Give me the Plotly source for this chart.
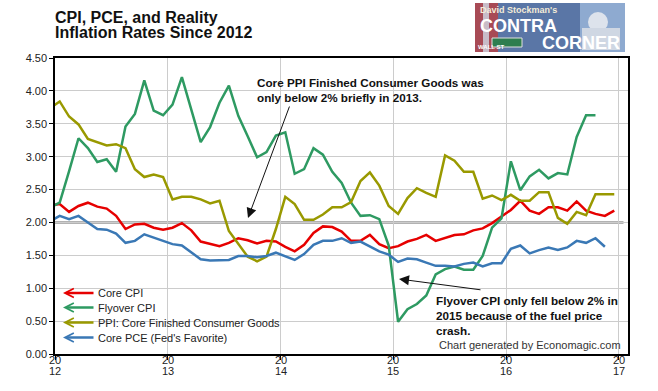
import plotly.graph_objects as go

# ---------------- data (monthly, first point = Dec 2011) ----------------
first_month = 2011 + 11.5 / 12  # mid-December 2011, in fractional years

core_cpi = [2.26, 2.28, 2.16, 2.25, 2.30, 2.24, 2.21, 2.10, 1.90, 1.97, 1.98, 1.92, 1.89,
            1.92, 1.99, 1.88, 1.71, 1.68, 1.64, 1.69, 1.76, 1.73, 1.68, 1.72, 1.71,
            1.63, 1.56, 1.66, 1.84, 1.94, 1.93, 1.86, 1.72, 1.72, 1.81, 1.67, 1.61,
            1.64, 1.71, 1.75, 1.81, 1.72, 1.76, 1.81, 1.82, 1.88, 1.91, 1.99, 2.09,
            2.19, 2.33, 2.18, 2.13, 2.23, 2.23, 2.18, 2.32, 2.18, 2.13, 2.10, 2.18]

flyover_cpi = [2.23, 2.30, 2.78, 3.28, 3.13, 2.92, 2.96, 2.77, 3.46, 3.65, 4.16, 3.70, 3.63,
               3.79, 4.21, 3.72, 3.22, 3.45, 3.82, 4.08, 3.62, 3.31, 2.99, 3.07, 3.32,
               3.37, 2.74, 2.81, 3.13, 3.03, 2.77, 2.60, 2.30, 2.10, 2.11, 2.05, 1.65,
               0.49, 0.68, 0.76, 0.89, 1.21, 1.29, 1.33, 1.28, 1.28, 1.49, 1.92, 2.06,
               2.93, 2.49, 2.70, 2.80, 2.67, 2.75, 2.73, 3.30, 3.63, 3.63]

ppi_core_goods = [3.74, 3.84, 3.61, 3.49, 3.27, 3.22, 3.17, 3.19, 3.13, 2.81, 2.69, 2.73, 2.69,
                  2.35, 2.39, 2.39, 2.35, 2.29, 2.33, 1.87, 1.67, 1.48, 1.41, 1.48, 1.90,
                  2.39, 2.28, 2.04, 2.04, 2.12, 2.23, 2.23, 2.31, 2.63, 2.76, 2.56, 2.25,
                  2.13, 2.37, 2.52, 2.45, 2.39, 3.02, 2.94, 2.77, 2.77, 2.36, 2.41, 2.34,
                  2.42, 2.33, 2.33, 2.46, 2.46, 2.07, 1.98, 2.16, 2.11, 2.43, 2.43, 2.43]

core_pce = [2.02, 2.10, 2.05, 2.10, 2.00, 1.90, 1.89, 1.83, 1.69, 1.72, 1.82, 1.77, 1.71,
            1.67, 1.65, 1.55, 1.44, 1.42, 1.43, 1.43, 1.49, 1.49, 1.47, 1.49, 1.54,
            1.49, 1.43, 1.52, 1.66, 1.72, 1.72, 1.76, 1.69, 1.71, 1.63, 1.56, 1.51,
            1.40, 1.45, 1.44, 1.39, 1.34, 1.34, 1.33, 1.37, 1.39, 1.33, 1.38, 1.38,
            1.60, 1.65, 1.53, 1.58, 1.62, 1.58, 1.62, 1.72, 1.69, 1.76, 1.63]

series_names = ["Core CPI", "Flyover CPI", "PPI: Core Finished Consumer Goods",
                "Core PCE (Fed's Favorite)"]
series_values = [core_cpi, flyover_cpi, ppi_core_goods, core_pce]
series_colors = ["#e60000", "#2e9a62", "#999900", "#3a78b5"]

year_ticks = [2012, 2013, 2014, 2015, 2016, 2017]
year_label_top = ["20", "20", "20", "20", "20", "20"]
year_label_bottom = ["12", "13", "14", "15", "16", "17"]
y_ticks = [0, 0.5, 1, 1.5, 2, 2.5, 3, 3.5, 4, 4.5]
TARGET = 2.0

# ---------------- figure ----------------
FONT = "Arial, Liberation Sans, sans-serif"
fig = go.Figure()

for name, vals, col in zip(series_names, series_values, series_colors):
    xs = [first_month + k / 12 for k in range(len(vals))]
    fig.add_trace(go.Scatter(x=xs, y=vals, mode="lines", name=name,
                             line=dict(color=col, width=2.5), showlegend=False))

# 2% reference line
fig.add_shape(type="line", xref="x", yref="y", x0=2012, x1=2017.04, y0=TARGET, y1=TARGET,
              line=dict(color="#999999", width=2.5), layer="below")

# plot geometry helpers (paper coords)
L, R, T, B = 55, 628, 58, 354
def px(x):
    return (x - L) / (R - L)
def py(y):
    return (B - y) / (B - T)

anns = []
shapes = []

# x-axis year labels, split over two lines like the original
for yr, top, bot in zip(year_ticks, year_label_top, year_label_bottom):
    anns.append(dict(text=top, x=yr, y=py(360), xref="x", yref="paper", showarrow=False,
                     xanchor="center", yanchor="middle",
                     font=dict(family=FONT, size=11, color="#222")))
    anns.append(dict(text=bot, x=yr, y=py(370.5), xref="x", yref="paper", showarrow=False,
                     xanchor="center", yanchor="middle",
                     font=dict(family=FONT, size=11, color="#222")))

# outer frame and logo imitation
shapes.append(dict(type="rect", xref="paper", yref="paper", x0=px(3), x1=px(652.5),
                   y0=py(386.5), y1=py(3), line=dict(color="#b8b8b8", width=1.5)))
shapes.append(dict(type="rect", xref="paper", yref="paper", x0=px(475), x1=px(625),
                   y0=py(52), y1=py(3), fillcolor="#5a76a6", line=dict(width=0)))
shapes.append(dict(type="rect", xref="paper", yref="paper", x0=px(475), x1=px(498),
                   y0=py(52), y1=py(3), fillcolor="#a84a55", line=dict(width=0)))
shapes.append(dict(type="rect", xref="paper", yref="paper", x0=px(483), x1=px(489),
                   y0=py(52), y1=py(3), fillcolor="#c8bcc8", line=dict(width=0)))
shapes.append(dict(type="rect", xref="paper", yref="paper", x0=px(580), x1=px(625),
                   y0=py(52), y1=py(3), fillcolor="#8eaad0", line=dict(width=0)))
shapes.append(dict(type="circle", xref="paper", yref="paper", x0=px(588), x1=px(608),
                   y0=py(32), y1=py(12), fillcolor="#dde3ec", line=dict(width=0)))
shapes.append(dict(type="rect", xref="paper", yref="paper", x0=px(582), x1=px(620),
                   y0=py(50), y1=py(28), fillcolor="#cfd7e3", line=dict(width=0)))
shapes.append(dict(type="rect", xref="paper", yref="paper", x0=px(492), x1=px(522),
                   y0=py(47), y1=py(38), fillcolor="#2e7d4f", line=dict(color="#e0e0e0", width=1)))
anns.append(dict(text="<b>David Stockman's</b>", x=px(478), y=py(10), xref="paper", yref="paper",
                 xanchor="left", yanchor="middle", showarrow=False,
                 font=dict(family=FONT, size=9, color="#f4ecd8")))
anns.append(dict(text="<b>CONTRA</b>", x=px(478), y=py(26), xref="paper", yref="paper",
                 xanchor="left", yanchor="middle", showarrow=False,
                 font=dict(family=FONT, size=18, color="#ffffff")))
anns.append(dict(text="<b>CORNER</b>", x=px(622), y=py(43), xref="paper", yref="paper",
                 xanchor="right", yanchor="middle", showarrow=False,
                 font=dict(family=FONT, size=18, color="#ffffff")))
anns.append(dict(text="<b>WALL ST</b>", x=px(507), y=py(42.5), xref="paper", yref="paper",
                 showarrow=False, font=dict(family=FONT, size=6, color="#ffffff")))

# title
anns.append(dict(text="<b>CPI, PCE, and Reality</b>", x=px(53), y=py(17.5), xref="paper", yref="paper",
                 xanchor="left", yanchor="middle", showarrow=False,
                 font=dict(family=FONT, size=16, color="#111")))
anns.append(dict(text="<b>Inflation Rates Since 2012</b>", x=px(53), y=py(32.5), xref="paper", yref="paper",
                 xanchor="left", yanchor="middle", showarrow=False,
                 font=dict(family=FONT, size=16, color="#111")))

# legend (arrows + labels)
leg_y = [293, 307.5, 322.5, 337.5]
for name, col, yy in zip(series_names, series_colors, leg_y):
    anns.append(dict(text="", x=px(63), y=py(yy), xref="paper", yref="paper",
                     showarrow=True, ax=32, ay=0, arrowhead=5, arrowsize=0.7,
                     arrowwidth=2.5, arrowcolor=col, standoff=0))
    anns.append(dict(text=name, x=px(96), y=py(yy), xref="paper", yref="paper",
                     xanchor="left", yanchor="middle", showarrow=False,
                     font=dict(family=FONT, size=11, color="#222")))

# callouts
anns.append(dict(text="<b>Core PPI Finished Consumer Goods was<br>only below 2% briefly in 2013.</b>",
                 x=px(255), y=py(90.5), xref="paper", yref="paper", xanchor="left",
                 yanchor="middle", align="left", showarrow=False,
                 font=dict(family=FONT, size=11.7, color="#111")))
anns.append(dict(text="", x=px(248), y=py(218), xref="paper", yref="paper", showarrow=True,
                 ax=42, ay=-113, arrowhead=2, arrowsize=2, arrowwidth=1, arrowcolor="#111"))
anns.append(dict(text="<b>Flyover CPI only fell below 2% in<br>2015 because of the fuel price<br>crash.</b>",
                 x=px(434), y=py(315.5), xref="paper", yref="paper", xanchor="left",
                 yanchor="middle", align="left", showarrow=False,
                 font=dict(family=FONT, size=11.7, color="#111")))
anns.append(dict(text="", x=px(399), y=py(279), xref="paper", yref="paper", showarrow=True,
                 ax=83, ay=11, arrowhead=2, arrowsize=2, arrowwidth=1, arrowcolor="#111"))
anns.append(dict(text="Chart generated by Economagic.com", x=px(623), y=py(345),
                 xref="paper", yref="paper", xanchor="right", yanchor="middle", showarrow=False,
                 font=dict(family=FONT, size=11, color="#333")))

fig.update_layout(
    width=658, height=391, autosize=False,
    margin=dict(l=L, r=658 - R, t=T, b=391 - B, autoexpand=False),
    paper_bgcolor="white", plot_bgcolor="white",
    showlegend=False,
    annotations=anns, shapes=shapes,
    font=dict(family=FONT, size=11, color="#222"),
    xaxis=dict(range=[2012, 2017.08], tickmode="array", tickvals=year_ticks,
               showticklabels=False, automargin=False,
               showgrid=True, gridcolor="#cccccc", gridwidth=1, zeroline=False,
               showline=True, linecolor="#000", linewidth=1.5, mirror=True,
               ticks="outside", ticklen=4, tickcolor="#000"),
    yaxis=dict(range=[0, 4.5], tickmode="array", tickvals=y_ticks, tickformat=".2f",
               automargin=False,
               showgrid=True, gridcolor="#cccccc", gridwidth=1, zeroline=False,
               showline=True, linecolor="#000", linewidth=1.5, mirror=True,
               ticks="outside", ticklen=4, tickcolor="#000", tickfont=dict(size=11, color="#222")),
)

fig.write_html("out.html", config={"displayModeBar": False},
               post_script="document.body.style.margin='0';document.body.style.overflow='hidden';")
